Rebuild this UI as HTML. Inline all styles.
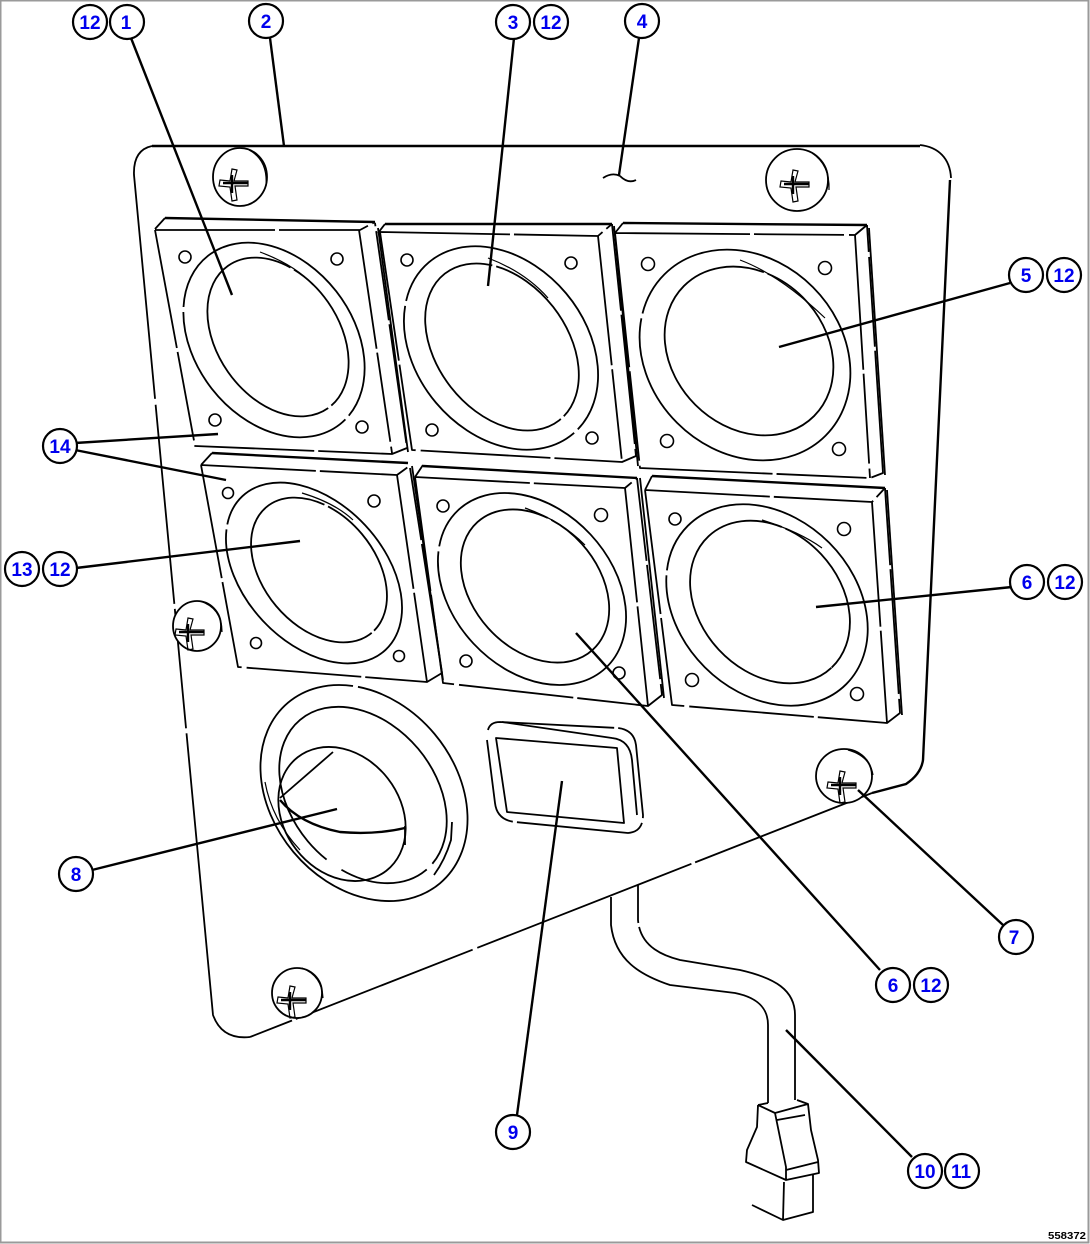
<!DOCTYPE html>
<html>
<head>
<meta charset="utf-8">
<style>
html,body{margin:0;padding:0;background:#fff;width:1090px;height:1244px;overflow:hidden}
svg{display:block}
.l{fill:none;stroke:#000;stroke-width:1.8;stroke-linecap:butt;stroke-linejoin:round}
.t{fill:none;stroke:#000;stroke-width:2.4}
.th{fill:none;stroke:#000;stroke-width:1.2}
.c{fill:#fff;stroke:#000;stroke-width:2.2}
.n{font-family:"Liberation Sans",sans-serif;font-weight:700;font-size:19px;fill:#0000ee;text-anchor:middle}
.h{fill:#fff;stroke:#000;stroke-width:1.6}
.s{fill:#fff;stroke:#000;stroke-width:1.8}
</style>
</head>
<body>
<svg width="1090" height="1244" viewBox="0 0 1090 1244" xmlns="http://www.w3.org/2000/svg">
<defs>
<g id="sc">
<path class="th" d="M-12 -3 L-2 -2 L0 -14 L5 -13 L2 -2 L16 -2 L16 3 L3 3 L5 17 L0 18 L-2 4 L-13 3 Z"/>
<path class="t" d="M-9 0 L16 0 M0 -8 L0 10"/>
</g>
</defs>
<rect x="0.5" y="0.5" width="1088" height="1242" fill="#fff" stroke="#9a9a9a" stroke-width="2"/>

<!-- panel outline -->
<path class="t" d="M152 146 L920 146"/>
<path class="l" d="M920 145 C938 147 950 158 951 178"/>
<path class="t" d="M950 180 L923 760 Q921 774 906 784 L872 793"/>
<path class="l" d="M872 793 L250 1037" stroke-dasharray="190 4 230 5"/>
<path class="l" d="M250 1037 Q222 1040 213 1015 L134 175 Q133 150 152 146" stroke-dasharray="330 5 120 5 200 6 400 6"/>

<!-- P1 -->
<g>
<path class="t" d="M165 218 L375 222"/>
<path class="l" d="M155 229 L165 218 M155 230 L360 230 L375 222 M155 230 L195 446 L392 454 L407 448 L375 223 M359 230 L392 453" stroke-dasharray="120 4 90 5"/>
<path class="l" d="M378 228 L408 452"/>
<circle class="h" cx="185" cy="257" r="6"/><circle class="h" cx="337" cy="259" r="6"/><circle class="h" cx="215" cy="420" r="6"/><circle class="h" cx="362" cy="427" r="6"/>
<ellipse class="l" cx="274" cy="340" rx="107" ry="79" transform="rotate(52 274 340)" stroke-dasharray="230 5 340 5"/>
<ellipse class="l" cx="278" cy="337" rx="87" ry="61" transform="rotate(55 278 337)" stroke-dasharray="300 4 160 4"/>
<path class="th" d="M260 252 Q295 265 313 285"/>
</g>

<!-- P2 -->
<g>
<path class="t" d="M385 224 L612 224"/>
<path class="l" d="M378 233 L385 224 M380 232 L598 236 L612 224 M380 232 L412 450 L622 462 L636 456 L612 224 M598 236 L622 462" stroke-dasharray="130 4 90 5"/>
<path class="l" d="M614 226 L638 466"/>
<circle class="h" cx="407" cy="260" r="6"/><circle class="h" cx="571" cy="263" r="6"/><circle class="h" cx="432" cy="430" r="6"/><circle class="h" cx="592" cy="438" r="6"/>
<ellipse class="l" cx="501" cy="348" rx="112" ry="85" transform="rotate(50 501 348)" stroke-dasharray="260 5 350 5"/>
<ellipse class="l" cx="502" cy="347" rx="93" ry="65" transform="rotate(52 502 347)" stroke-dasharray="300 4 190 4"/>
<path class="th" d="M488 258 Q525 272 548 298"/>
</g>

<!-- P3 -->
<g>
<path class="t" d="M623 223 L867 225"/>
<path class="l" d="M615 233 L623 223 M615 233 L855 235 L867 225 M615 233 L640 468 L870 478 L883 473 L867 225 M855 235 L870 478" stroke-dasharray="135 4 90 5"/>
<path class="l" d="M869 228 L885 475"/>
<circle class="h" cx="648" cy="264" r="6.5"/><circle class="h" cx="825" cy="268" r="6.5"/><circle class="h" cx="667" cy="441" r="6.5"/><circle class="h" cx="839" cy="449" r="6.5"/>
<ellipse class="l" cx="745" cy="355" rx="114" ry="96" transform="rotate(45 745 355)" stroke-dasharray="280 5 380 5"/>
<ellipse class="l" cx="749" cy="351" rx="92" ry="76" transform="rotate(45 749 351)" stroke-dasharray="350 4 180 4"/>
<path class="th" d="M740 260 Q780 275 825 318"/>
</g>

<!-- P4 -->
<g>
<path class="t" d="M212 453 L408 463"/>
<path class="l" d="M201 465 L212 453 M201 465 L397 475 L408 467 M201 465 L238 667 L427 682 L442 673 L410 468 M397 475 L427 682" stroke-dasharray="115 4 90 5"/>
<path class="l" d="M412 466 L443 680"/>
<circle class="h" cx="228" cy="493" r="5.5"/><circle class="h" cx="374" cy="501" r="6"/><circle class="h" cx="256" cy="643" r="5.5"/><circle class="h" cx="399" cy="656" r="5.5"/>
<ellipse class="l" cx="314" cy="573" rx="105" ry="70" transform="rotate(47 314 573)" stroke-dasharray="240 5 320 5"/>
<ellipse class="l" cx="319" cy="570" rx="82" ry="56" transform="rotate(50 319 570)" stroke-dasharray="280 4 150 4"/>
<path class="th" d="M302 493 Q335 503 353 520"/>
</g>

<!-- P5 -->
<g>
<path class="t" d="M423 466 L637 478"/>
<path class="l" d="M415 477 L423 465 M415 477 L625 488 L637 478 M415 477 L443 683 L648 706 L662 695 L637 478 M625 488 L648 706" stroke-dasharray="115 4 100 5"/>
<path class="l" d="M640 478 L664 698"/>
<circle class="h" cx="443" cy="506" r="6"/><circle class="h" cx="601" cy="515" r="6.5"/><circle class="h" cx="466" cy="661" r="6"/><circle class="h" cx="619" cy="673" r="6"/>
<ellipse class="l" cx="532" cy="589" rx="108" ry="80" transform="rotate(47 532 589)" stroke-dasharray="250 5 340 5"/>
<ellipse class="l" cx="535" cy="586" rx="86" ry="63" transform="rotate(48 535 586)" stroke-dasharray="310 4 160 4"/>
<path class="th" d="M525 508 Q560 520 585 545"/>
</g>

<!-- P6 -->
<g>
<path class="t" d="M652 476 L885 488"/>
<path class="l" d="M645 490 L652 476 M645 490 L872 502 L885 488 M645 490 L672 705 L887 723 L900 713 L885 488 M872 502 L887 723" stroke-dasharray="125 4 100 5"/>
<path class="l" d="M887 490 L902 715"/>
<circle class="h" cx="675" cy="519" r="6"/><circle class="h" cx="844" cy="529" r="6.5"/><circle class="h" cx="692" cy="680" r="6.5"/><circle class="h" cx="857" cy="694" r="6.5"/>
<ellipse class="l" cx="767" cy="605" rx="112" ry="88" transform="rotate(45 767 605)" stroke-dasharray="260 5 370 5"/>
<ellipse class="l" cx="770" cy="602" rx="90" ry="70" transform="rotate(47 770 602)" stroke-dasharray="330 4 170 4"/>
<path class="th" d="M762 520 Q800 532 822 548"/>
</g>

<!-- screws -->
<g>
<ellipse class="s" cx="240" cy="177" rx="27" ry="29"/><use href="#sc" x="232" y="183"/><path class="th" d="M249 150 Q268 160 266 186"/>
<ellipse class="s" cx="797" cy="180" rx="31" ry="31"/><use href="#sc" x="793" y="184"/><path class="th" d="M812 153 Q830 165 829 190"/>
<ellipse class="s" cx="197" cy="626" rx="24" ry="25"/><use href="#sc" x="188" y="632"/><path class="th" d="M200 601 Q222 608 222 632"/>
<ellipse class="s" cx="844" cy="776" rx="28" ry="27"/><use href="#sc" x="840" y="785"/><path class="th" d="M848 750 Q870 756 873 775"/>
<ellipse class="s" cx="297" cy="993" rx="25" ry="25"/><use href="#sc" x="290" y="1000"/><path class="th" d="M302 968 Q322 976 323 998"/>
</g>

<!-- round vent 8 -->
<g>
<ellipse class="l" cx="364" cy="793" rx="118" ry="92" transform="rotate(50 364 793)" stroke-dasharray="400 5 260 5"/>
<ellipse class="l" cx="363" cy="795" rx="98" ry="72" transform="rotate(50 363 795)" stroke-dasharray="90 18 420 8"/>
<ellipse class="l" cx="342" cy="814" rx="72" ry="58" transform="rotate(52 342 814)"/>
<path class="l" d="M280 798 L333 752"/>
<path class="t" d="M280 800 Q300 824 340 832 Q375 835 405 828"/>
<path class="l" d="M405 826 L405 845"/>
<path class="th" d="M265 782 Q272 820 300 850"/>
<path class="l" d="M452 822 L451 840 Q445 860 434 875"/>
</g>

<!-- rect 9 -->
<g>
<path class="l" d="M488 730 Q490 722 500 722 L618 728 Q634 730 636 745 L643 815 Q643 832 628 833 L515 822 Q497 820 495 803 L487 740" stroke-dasharray="130 4 100 5"/>
<path class="l" d="M496 738 L617 748 L624 823 L507 812 Z" stroke-width="2"/>
<path class="l" d="M502 722 L612 738 Q630 740 632 760 L637 815"/>
</g>

<!-- cable -->
<g>
<path class="l" d="M611 897 L611 925 C615 960 640 975 670 985 L735 993 C760 998 768 1010 768 1025 L768 1103"/>
<path class="l" d="M638 885 L638 920 C640 945 660 955 680 960 L740 970 C775 978 795 990 795 1015 L795 1100" stroke-dasharray="38 4 400 4"/>
<path class="l" d="M758 1105 L768 1103 M758 1105 L775 1113 L808 1104 L797 1100 M758 1105 L757 1127 L747 1150 L746 1162 L786 1180 L819 1173 L818 1160 L811 1130 L808 1104 M775 1113 L786 1167 L786 1180 M786 1170 L818 1162 M777 1120 L805 1115 M784 1182 L783 1220 L813 1212 L813 1175 M752 1205 L783 1220"/>
</g>

<!-- squiggle 4 -->
<path class="l" d="M603 178 Q612 172 620 176 Q628 184 636 180"/>

<!-- leaders -->
<g class="t">
<path d="M131 38 L232 295"/>
<path d="M270 38 L284 146"/>
<path d="M514 38 L488 286"/>
<path d="M639 38 L619 175"/>
<path d="M1010 283 L779 347"/>
<path d="M1012 587 L816 607"/>
<path d="M880 970 L576 633"/>
<path d="M1003 925 L858 790"/>
<path d="M92 870 L337 809"/>
<path d="M517 1115 L562 781"/>
<path d="M912 1157 L786 1030"/>
<path d="M76 568 L300 541"/>
<path d="M75 443 L218 434"/>
<path d="M75 450 L226 480"/>
</g>

<!-- callouts -->
<g>
<circle class="c" cx="90" cy="22" r="17"/><text class="n" x="90" y="29">12</text>
<circle class="c" cx="127" cy="22" r="17"/><text class="n" x="126" y="29">1</text>
<circle class="c" cx="266" cy="21" r="17"/><text class="n" x="266" y="28">2</text>
<circle class="c" cx="513" cy="22" r="17"/><text class="n" x="513" y="29">3</text>
<circle class="c" cx="551" cy="22" r="17"/><text class="n" x="551" y="29">12</text>
<circle class="c" cx="642" cy="21" r="17"/><text class="n" x="642" y="28">4</text>
<circle class="c" cx="1026" cy="275" r="17"/><text class="n" x="1026" y="282">5</text>
<circle class="c" cx="1064" cy="275" r="17"/><text class="n" x="1064" y="282">12</text>
<circle class="c" cx="60" cy="446" r="17"/><text class="n" x="60" y="453">14</text>
<circle class="c" cx="22" cy="569" r="17"/><text class="n" x="22" y="576">13</text>
<circle class="c" cx="60" cy="569" r="17"/><text class="n" x="60" y="576">12</text>
<circle class="c" cx="1027" cy="582" r="17"/><text class="n" x="1027" y="589">6</text>
<circle class="c" cx="1065" cy="582" r="17"/><text class="n" x="1065" y="589">12</text>
<circle class="c" cx="76" cy="874" r="17"/><text class="n" x="76" y="881">8</text>
<circle class="c" cx="1016" cy="937" r="17"/><text class="n" x="1014" y="944">7</text>
<circle class="c" cx="893" cy="985" r="17"/><text class="n" x="893" y="992">6</text>
<circle class="c" cx="931" cy="985" r="17"/><text class="n" x="931" y="992">12</text>
<circle class="c" cx="513" cy="1132" r="17"/><text class="n" x="513" y="1139">9</text>
<circle class="c" cx="925" cy="1171" r="17"/><text class="n" x="925" y="1178">10</text>
<circle class="c" cx="962" cy="1171" r="17"/><text class="n" x="961" y="1178">11</text>
</g>
<text x="1048" y="1239" font-family="Liberation Sans, sans-serif" font-weight="700" font-size="10" fill="#000" textLength="38" lengthAdjust="spacingAndGlyphs">558372</text>
</svg>
</body>
</html>
